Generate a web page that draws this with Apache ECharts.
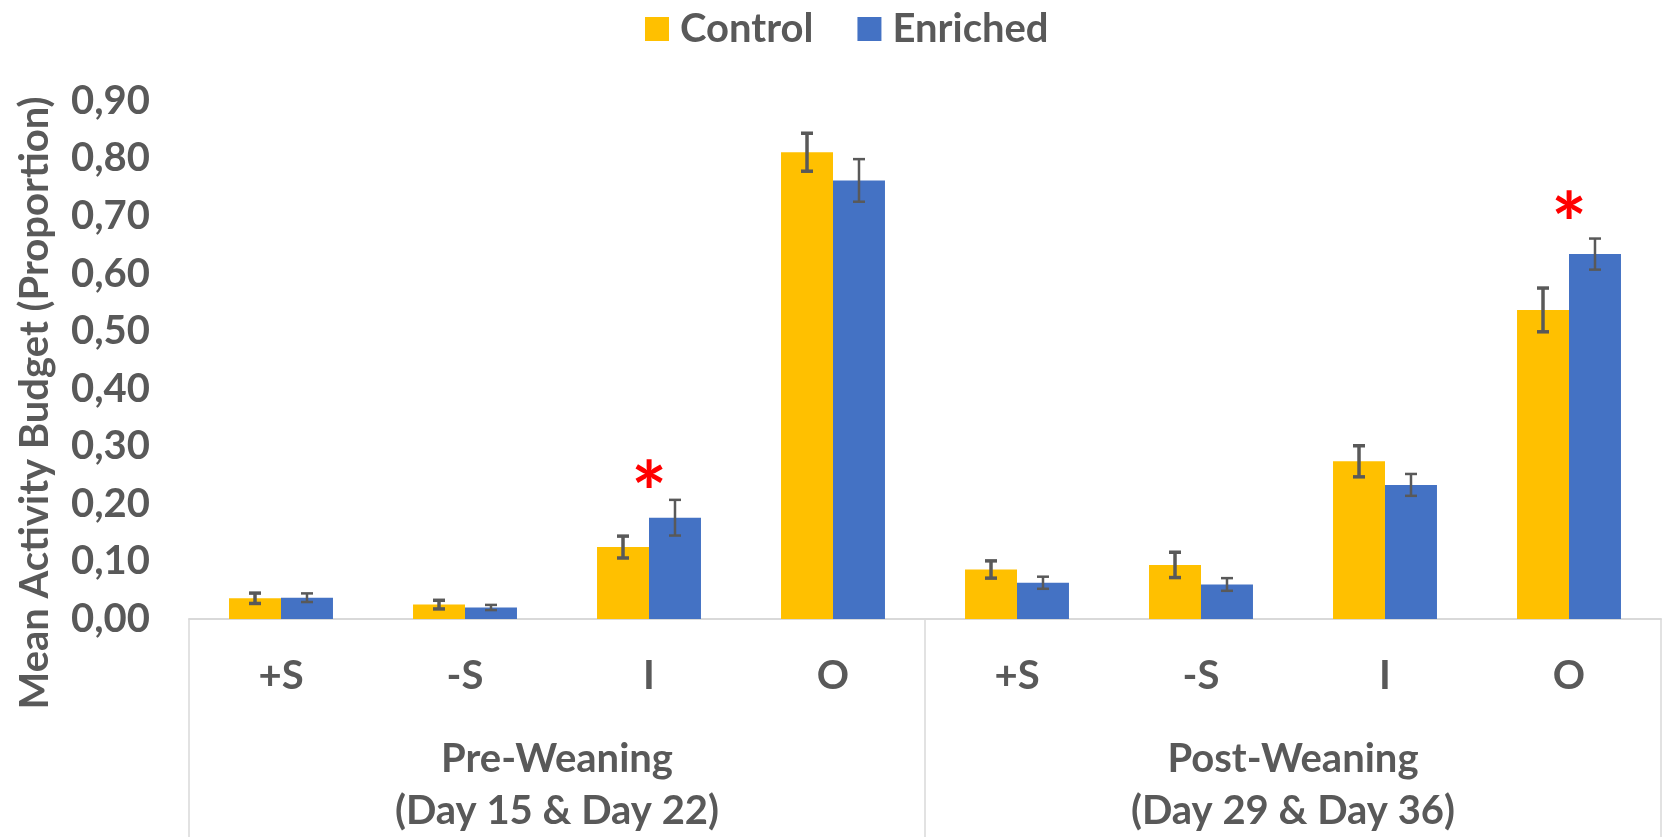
<!DOCTYPE html>
<html>
<head>
<meta charset="utf-8">
<script src="https://cdn.jsdelivr.net/npm/echarts@6/dist/echarts.min.js"></script>
<style>
html,body{margin:0;padding:0;background:#fff;}
#chart{width:1665px;height:837px;}
</style>
</head>
<body>
<div id="chart"></div>
<script>
// ---- data ----
const subCategories = ['+S', '-S', 'I', 'O', '+S', '-S', 'I', 'O'];
const groupLabels = ['Pre-Weaning\n(Day 15 & Day 22)', 'Post-Weaning\n(Day 29 & Day 36)'];
const controlValues = [0.036, 0.025, 0.125, 0.811, 0.086, 0.094, 0.274, 0.537];
const enrichedValues = [0.037, 0.020, 0.176, 0.762, 0.063, 0.060, 0.233, 0.634];
const controlErrors = [0.009, 0.0075, 0.019, 0.033, 0.015, 0.022, 0.027, 0.038];
const enrichedErrors = [0.0075, 0.0045, 0.031, 0.037, 0.0105, 0.011, 0.019, 0.027];
const yTickLabels = ['0,00', '0,10', '0,20', '0,30', '0,40', '0,50', '0,60', '0,70', '0,80', '0,90'];
const sigCategories = [2, 7];
const sigLevels = [0.252, 0.72];

const FONT = 'Lato';
const TXT = '#595959';
const GAP = 0.435;
const FS = 40;

function errorRenderer(side, width) {
  return function (params, api) {
    const idx = api.value(0);
    const v = api.value(1);
    const e = api.value(2);
    const band = api.size([1, 0])[0];
    const bw = band * (1 - GAP) / 2;
    const base = api.coord([idx, v]);
    const x = base[0] + side * bw / 2;
    const top = api.coord([idx, v + e])[1];
    const bot = api.coord([idx, v - e])[1];
    const cap = 6;
    const style = { stroke: '#595959', lineWidth: width };
    return {
      type: 'group',
      children: [
        { type: 'line', shape: { x1: x, y1: top, x2: x, y2: bot }, style: style },
        { type: 'line', shape: { x1: x - cap, y1: top, x2: x + cap, y2: top }, style: style },
        { type: 'line', shape: { x1: x - cap, y1: bot, x2: x + cap, y2: bot }, style: style }
      ]
    };
  };
}

const chart = echarts.init(document.getElementById('chart'), null, { renderer: 'canvas' });
chart.setOption({
  animation: false,
  textStyle: { fontFamily: FONT, fontWeight: 'bold', color: TXT },
  legend: {
    data: ['Control', 'Enriched'],
    left: 640, top: 4,
    itemWidth: 24, itemHeight: 24, itemGap: 44,
    icon: 'rect',
    textStyle: { fontFamily: FONT, fontWeight: 'bold', fontSize: FS, color: TXT, padding: [0, 0, 0, 6] }
  },
  grid: { left: 189, right: 4, top: 101, bottom: 212, containLabel: false },
  xAxis: [
    {
      type: 'category', data: subCategories,
      axisLine: { show: true, lineStyle: { color: '#D9D9D9', width: 2 } },
      axisTick: { show: false },
      axisLabel: { interval: 0, margin: 35, fontFamily: FONT, fontWeight: 'bold', fontSize: FS, color: TXT, lineHeight: 44 }
    },
    {
      type: 'category', data: groupLabels, position: 'bottom',
      axisLine: { show: false },
      axisTick: { show: true, length: 220, lineStyle: { color: '#D9D9D9', width: 1.5 } },
      axisLabel: { interval: 0, margin: 114, fontFamily: FONT, fontWeight: 'bold', fontSize: FS, color: TXT, lineHeight: 52 }
    }
  ],
  yAxis: {
    type: 'value', min: 0, max: 0.9, interval: 0.1,
    name: 'Mean Activity Budget (Proportion)',
    nameLocation: 'middle', nameGap: 134,
    nameTextStyle: { fontFamily: FONT, fontWeight: 'bold', fontSize: FS, color: TXT, padding: [0, 86, 0, 0] },
    axisLine: { show: false }, axisTick: { show: false }, splitLine: { show: false },
    axisLabel: {
      margin: 39, fontFamily: FONT, fontWeight: 'bold', fontSize: FS, color: TXT,
      formatter: function (v) { return yTickLabels[Math.round(v * 10)]; }
    }
  },
  series: [
    { name: 'Control', type: 'bar', data: controlValues, barGap: '0%', barCategoryGap: (GAP * 100) + '%',
      itemStyle: { color: '#FFC000' } },
    { name: 'Enriched', type: 'bar', data: enrichedValues, barGap: '0%', barCategoryGap: (GAP * 100) + '%',
      itemStyle: { color: '#4472C4' } },
    { type: 'custom', renderItem: errorRenderer(-1, 3.5), z: 5,
      data: controlValues.map(function (v, i) { return [i, v, controlErrors[i]]; }) },
    { type: 'custom', renderItem: errorRenderer(1, 2.5), z: 5,
      data: enrichedValues.map(function (v, i) { return [i, v, enrichedErrors[i]]; }) },
    { type: 'custom', z: 6,
      renderItem: function (params, api) {
        const p = api.coord([api.value(0), api.value(1)]);
        return { type: 'text', x: p[0], y: p[1] + 22,
          style: { text: '*', fill: '#FF0000', font: 'bold 84px ' + FONT, align: 'center', verticalAlign: 'middle' } };
      },
      data: sigCategories.map(function (c, i) { return [c, sigLevels[i]]; }) }
  ]
});
</script>
</body>
</html>
